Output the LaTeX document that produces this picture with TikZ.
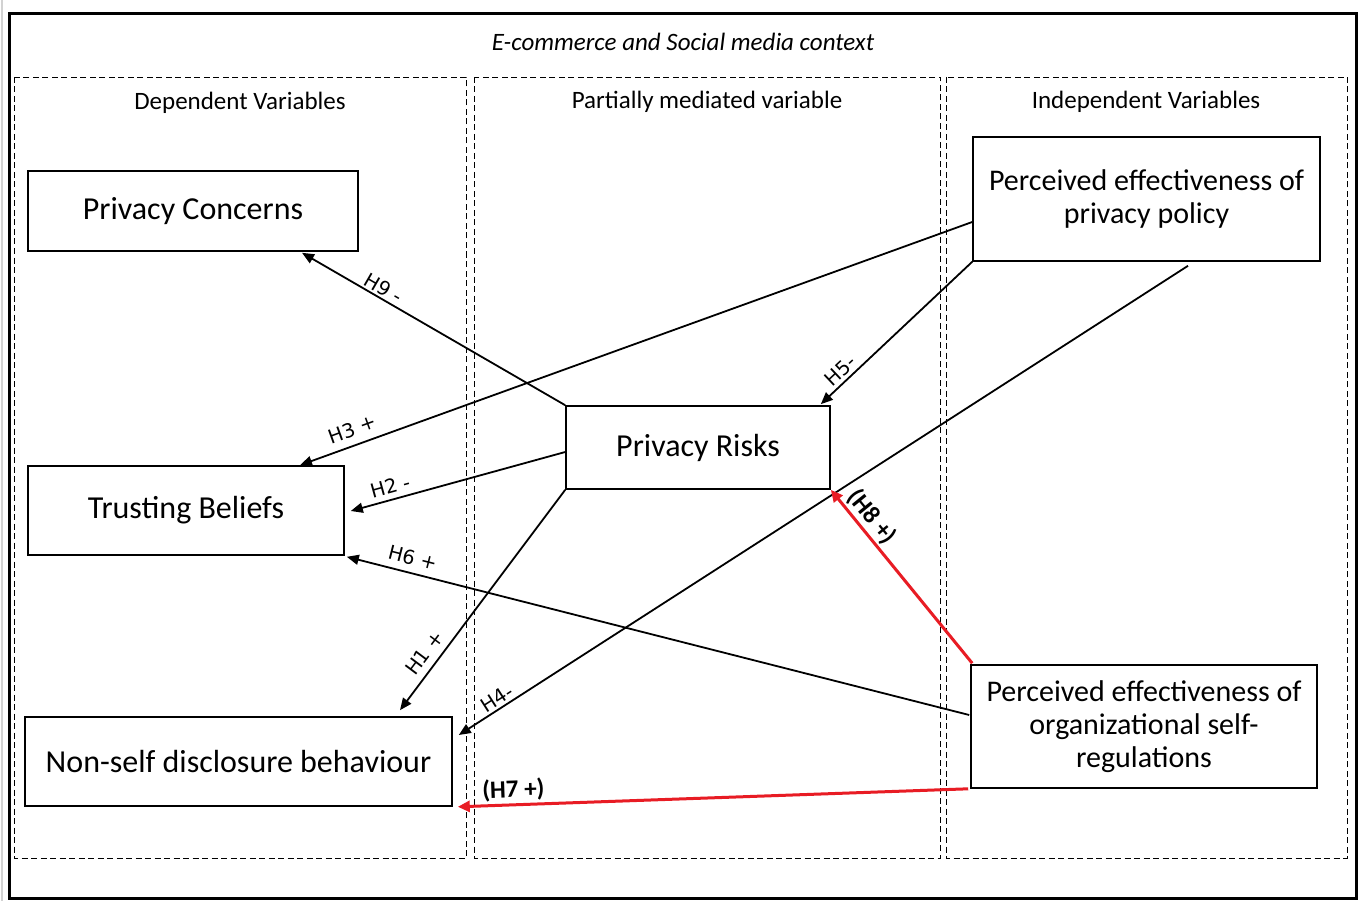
\documentclass[tikz,border=0pt]{standalone}
\usepackage{fontspec}
\setmainfont{Carlito}
\newfontfamily\labfont{DejaVu Sans}
\usetikzlibrary{arrows.meta,calc}
\definecolor{myred}{RGB}{232,28,36}
\begin{document}
\begin{tikzpicture}[x=1pt,y=-1pt,
  box/.style={draw, line width=1.6pt, rectangle, inner sep=0pt, align=center, font=\fontsize{30}{33}\selectfont},
  bigbox/.style={box, font=\fontsize{32}{35}\selectfont},
  col/.style={draw, line width=0.9pt, dash pattern=on 6pt off 3.5pt},
  head/.style={font=\fontsize{25}{30}\selectfont, inner sep=0pt},
  arr/.style={line width=1.8pt, -{Triangle[length=12pt,width=10pt]}},
  redarr/.style={line width=3pt, draw=myred, -{Triangle[length=12pt,width=11pt]}},
  lab/.style={font=\labfont\fontsize{19.5}{22}\selectfont, sloped, inner sep=0pt},
  rlab/.style={font=\bfseries\fontsize{25}{28}\selectfont, sloped, inner sep=0pt, text=black},
]
\useasboundingbox (0,0) rectangle (1364,901);
\fill[white] (0,0) rectangle (1364,901);
\draw[line width=2pt, gray!35] (1.5,0) -- (1.5,901);
\draw[line width=3pt] (9.5,14) rectangle (1356,898.5);

\node[head, font=\itshape\fontsize{25}{30}\selectfont] (title) at (683,42) {E-commerce and Social media context};

\draw[col] (14,77) rectangle (466,858);
\draw[col] (474,77) rectangle (940,858);
\draw[col] (946,77) rectangle (1347,858);

\node[head] (h1) at (240,103) {Dependent Variables};
\node[head] (h2) at (707,102) {Partially mediated variable};
\node[head] (h3) at (1146,102) {Independent Variables};

\node[bigbox, minimum width=330pt, minimum height=80pt] (pc) at (193,211) {Privacy Concerns};
\node[bigbox, minimum width=316pt, minimum height=89pt] (tb) at (186,510.5) {Trusting Beliefs};
\node[bigbox, minimum width=427pt, minimum height=89pt] (nsd) at (238.5,761.5) {Non-self disclosure behaviour};
\node[bigbox, minimum width=264pt, minimum height=83pt] (pr) at (698,447.5) {Privacy Risks};
\node[box, minimum width=347pt, minimum height=124pt] (pepp) at (1146.5,199) {Perceived effectiveness of\\privacy policy};
\node[box, minimum width=346pt, minimum height=123pt] (peosr) at (1144,726.5) {Perceived effectiveness of\\organizational self-\\regulations};

% H9
\draw[arr] (pr.north west) -- node[lab, pos=0.71, above=2pt] {H9 -} ($(pc.south)+(109,1)$);
% H3
\draw[arr] ($(pepp.west)+(0,23)$) -- node[lab, pos=0.914, above=8pt] {H3 +} ($(tb.north)+(114,0)$);
% H2
\draw[arr] ($(pr.west)+(0,4.5)$) -- node[lab, pos=0.80, above=5pt] {H2 -} ($(tb.east)+(6,0.5)$);
% H6
\draw[arr] ($(peosr.west)+(-1,-11.5)$) -- node[lab, pos=0.90, above=7pt] {H6 +} ($(tb.south east)+(2,1)$);
% H1
\draw[arr] (pr.south west) -- node[lab, pos=0.78, above=7pt] {H1 +} ($(nsd.north)+(161.5,-6)$);
% H4
\draw[arr] ($(pepp.south)+(41.5,4)$) -- node[lab, pos=0.94, above=2pt] {H4-} ($(nsd.east)+(6,-26.5)$);
% H5
\draw[arr] (pepp.south west) -- node[lab, pos=0.82, above=3pt] {H5-} ($(pr.north east)+(-10,-1)$);
% H8
\draw[redarr] ($(peosr.north west)+(2,-1)$) -- node[rlab, pos=0.79, above=2pt] {(H8 +)} (pr.south east);
% H7
\draw[redarr] ($(peosr.south west)+(-2,0)$) -- node[rlab, pos=0.89, above=2pt] {(H7 +)} ($(nsd.south east)+(5,0)$);
\end{tikzpicture}
\end{document}
